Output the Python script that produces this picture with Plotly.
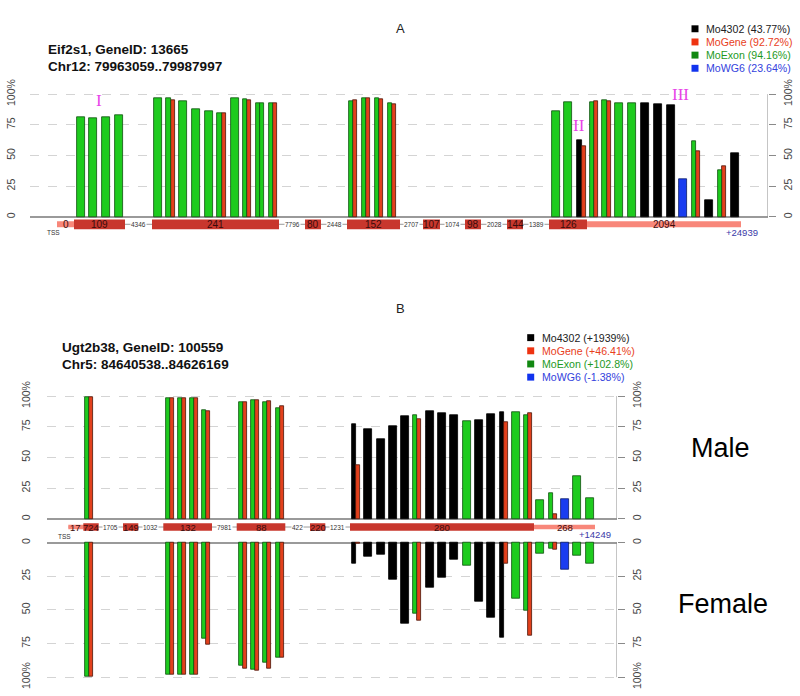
import plotly.graph_objects as go

W, H = 800, 696

# ---------------- data: panel A (Eif2s1) ----------------
A_slot = [81, 93, 106, 119, 157.5, 170.5, 183, 196, 209, 221.5, 234.5, 247, 260, 273,
          353, 366, 379, 392, 555.5, 568, 581.5, 594, 606.5, 619, 632, 645, 658, 671,
          683, 696, 709, 722, 735]
A_s1 = ['E', 'E', 'E', 'E', 'E', 'E', 'E', 'E', 'E', 'E', 'E', 'E', 'E', 'E',
        'E', 'E', 'E', 'E', 'E', 'E', 'M', 'E', 'E', 'E', 'E', 'M', 'M', 'M',
        'W', 'E', 'M', 'E', 'M']
A_v1 = [81.6, 80, 81.6, 82.7, 97, 96.5, 94.3, 87.6, 86.2, 84.1, 97, 96.2, 93, 93,
        94.6, 96.8, 96.8, 93, 85.7, 93.2, 62.7, 93.8, 95.4, 92.4, 93, 92.4, 91.4, 91.1,
        30.5, 61.9, 13.5, 37.8, 51.9]
A_s2 = [None, None, None, None, None, 'G', None, None, None, 'G', None, 'G', 'E', 'G',
        'G', 'G', 'G', 'G', None, None, 'G', 'G', 'G', None, None, None, None, None,
        None, 'G', None, 'G', None]
A_v2 = [None, None, None, None, None, 95.1, None, None, None, 84.6, None, 95.1, 92.2, 93,
        95.4, 96.5, 95.9, 91.4, None, None, 57.3, 94.3, 94.3, None, None, None, None, None,
        None, 53.8, None, 41.1, None]

A_seg_start = [57, 74, 125, 152, 279, 305, 321, 347, 400, 423, 440, 465, 481, 507, 523, 549, 587]
A_seg_end = [74, 125, 152, 279, 305, 321, 347, 400, 423, 440, 465, 481, 507, 523, 549, 587, 741]
A_seg_label = ['0', '109', '4346', '241', '7796', '80', '2448', '152', '2707', '107', '1074',
               '98', '2028', '144', '1389', '126', '2094']
A_seg_type = ['utr', 'exon', 'intron', 'exon', 'intron', 'exon', 'intron', 'exon', 'intron',
              'exon', 'intron', 'exon', 'intron', 'exon', 'intron', 'exon', 'utr']

A_legend = ['Mo4302 (43.77%)', 'MoGene (92.72%)', 'MoExon (94.16%)', 'MoWG6 (23.64%)']
A_title = ['Eif2s1, GeneID: 13665', 'Chr12: 79963059..79987997']
A_end_label = '+24939'

# ---------------- data: panel B (Ugt2b38) ----------------
B_slot = [89.3, 169.7, 181.7, 194, 206.3, 243, 255.3, 267.3, 279.7, 356.3, 368.3, 380.5,
          393, 405.3, 417.3, 430, 442, 454.3, 466.7, 479, 491.3, 503.7, 515.7, 528.3,
          540.3, 552.7, 565.2, 577.3, 589.5]
B_s1 = ['E', 'E', 'E', 'E', 'E', 'E', 'E', 'E', 'E', 'M', 'M', 'M',
        'M', 'M', 'E', 'M', 'M', 'M', 'E', 'M', 'M', 'M', 'E', 'E',
        'E', 'E', 'W', 'E', 'E']
B_v1_male = [99.5, 98.7, 98.4, 98.4, 88.7, 95.4, 96.5, 95.2, 89.8, 77, 72.8, 64.5,
             75.6, 83.9, 84.4, 87.6, 86, 84.4, 79.6, 80.1, 85.5, 86.6, 86.8, 84.7,
             15.1, 20.7, 15.9, 34.4, 16.7]
B_v1_female = [99.3, 98, 97.8, 97.8, 71.6, 91.7, 94.1, 89.5, 85.5, 15.9, 10.3, 9.3,
               27.7, 60.3, 52.9, 33.3, 26, 12.3, 17.2, 44.1, 55.4, 70.8, 41.7, 50.7,
               8.3, 4.7, 20.1, 9.6, 15.4]
B_s2 = ['G', 'G', 'G', 'G', 'G', 'G', 'G', 'G', 'G', 'G', None, None,
        None, None, 'G', None, None, None, None, None, None, 'G', None, 'G',
        None, 'G', None, None, None]
B_v2_male = [99.5, 98.4, 98.1, 98.1, 87.4, 95.4, 96.8, 96, 91.9, 43.5, None, None,
             None, None, 81.2, None, None, None, None, None, None, 78.8, None, 86,
             None, 3.5, None, None, None]
B_v2_female = [99.3, 98, 98, 98, 75.7, 93.6, 95.1, 93.6, 85.5, 1.0, None, None,
               None, None, 58.3, None, None, None, None, None, None, 15.4, None, 69.4,
               None, 5.1, None, None, None]

B_seg_start = [68.3, 83.3, 98.7, 123, 138.3, 163.3, 212, 236.7, 285.3, 310, 325.3, 350, 534]
B_seg_end = [83.3, 98.7, 123, 138.3, 163.3, 212, 236.7, 285.3, 310, 325.3, 350, 534, 595]
B_seg_label = ['17', '724', '1705', '149', '1032', '132', '7981', '88', '422', '220', '1231',
               '280', '268']
B_seg_type = ['utr', 'exon', 'intron', 'exon', 'intron', 'exon', 'intron', 'exon', 'intron',
              'exon', 'intron', 'exon', 'utr']

B_legend = ['Mo4302 (+1939%)', 'MoGene (+46.41%)', 'MoExon (+102.8%)', 'MoWG6 (-1.38%)']
B_title = ['Ugt2b38, GeneID: 100559', 'Chr5: 84640538..84626169']
B_end_label = '+14249'

tick_vals = [0, 25, 50, 75, 100]
tick_text = ['0', '25', '50', '75', '100%']

# ---------------- styles ----------------
SERIES = ['M', 'G', 'E', 'W']
FILL = {'M': '#000000', 'G': '#e2401c', 'E': '#1ecb1e', 'W': '#1a3df0'}
EDGE = {'M': '#000000', 'G': '#4a1408', 'E': '#0f4f0f', 'W': '#0a1a66'}
LEG_SQ = ['#000000', '#ee3311', '#118811', '#1133ee']
LEG_TX = ['#222222', '#e8401c', '#1e9a1e', '#3342dd']
EXON_C = '#c8372d'
UTR_C = '#f8877a'
FONT = 'Liberation Sans, Arial, sans-serif'
SERIF = 'Liberation Serif, DejaVu Serif, serif'
GRID = '#d4d4d4'
AXC = '#8a8a8a'


def px(v):
    return v / W


def py(v):
    return 1 - v / H


fig = go.Figure()


def add_bars(slots, s1, v1, s2, v2, single_w, pair_w, xa, ya):
    for key in SERIES:
        xs, ys, ws = [], [], []
        for c, a, va, b, vb in zip(slots, s1, v1, s2, v2):
            paired = b is not None
            if a == key and va is not None:
                xs.append(c - pair_w / 2 if paired else c)
                ys.append(va)
                ws.append(pair_w if paired else single_w)
            if b == key and vb is not None:
                xs.append(c + pair_w / 2)
                ys.append(vb)
                ws.append(pair_w)
        if xs:
            fig.add_trace(go.Bar(x=xs, y=ys, width=ws, xaxis=xa, yaxis=ya,
                                 marker=dict(color=FILL[key], line=dict(color=EDGE[key], width=0.8)),
                                 hoverinfo='skip', showlegend=False))


add_bars(A_slot, A_s1, A_v1, A_s2, A_v2, 8, 4.3, 'x', 'y')
add_bars(B_slot, B_s1, B_v1_male, B_s2, B_v2_male, 8, 4, 'x2', 'y2')
add_bars(B_slot, B_s1, B_v1_female, B_s2, B_v2_female, 8, 4, 'x2', 'y3')

# dummy traces so the overlaid right-hand axes are drawn
for xa, ya in [('x', 'y4'), ('x2', 'y5'), ('x2', 'y6')]:
    fig.add_trace(go.Scatter(x=[None], y=[None], xaxis=xa, yaxis=ya, showlegend=False, hoverinfo='skip'))

shapes = []
annots = []


def note(x, y, text, size, color, family=FONT, xanchor='center', yanchor='middle', xref='paper',
         yref='paper', bgcolor=None):
    d = dict(x=x, y=y, xref=xref, yref=yref, text=text, showarrow=False, xanchor=xanchor,
             yanchor=yanchor, font=dict(family=family, size=size, color=color), borderpad=0)
    if bgcolor:
        d['bgcolor'] = bgcolor
    annots.append(d)


def gene_track(xr, yr, starts, ends, labels, types, yc, exon_h, utr_h, lab_size):
    shapes.append(dict(type='line', xref=xr, yref=yr, x0=starts[0], x1=ends[-1], y0=yc, y1=yc,
                       line=dict(color='#9a9a9a', width=1)))
    for s, e, lab, t in zip(starts, ends, labels, types):
        mid = (s + e) / 2
        if t == 'intron':
            note(mid, yc, lab, 6.5, '#333333', xref=xr, yref=yr, bgcolor='white')
        else:
            h = exon_h if t == 'exon' else utr_h
            shapes.append(dict(type='rect', xref=xr, yref=yr, x0=s, x1=e, y0=yc - h / 2, y1=yc + h / 2,
                               fillcolor=EXON_C if t == 'exon' else UTR_C, line=dict(width=0)))
            note(mid, yc, lab, lab_size, '#3a0c0c', xref=xr, yref=yr)


gene_track('x', 'y', A_seg_start, A_seg_end, A_seg_label, A_seg_type, -6.05, 8.0, 4.8, 10)
gene_track('x2', 'y2', B_seg_start, B_seg_end, B_seg_label, B_seg_type, -6.7, 6.0, 3.8, 9.5)

# right axis lines (0..100)
for xr, yr, xv in [('x', 'y', 768), ('x2', 'y2', 617), ('x2', 'y3', 617)]:
    shapes.append(dict(type='line', xref=xr, yref=yr, x0=xv, x1=xv, y0=0, y1=100,
                       line=dict(color=AXC, width=1)))

# TSS and end labels
note(px(53), py(228), 'TSS', 6.5, '#333333')
note(px(64), py(535), 'TSS', 6.5, '#333333')
note(px(742), py(227.5), A_end_label, 9.5, '#3a3aa8')
note(px(595), py(533), B_end_label, 9.5, '#3a3aa8')

# panel titles
note(0.5, py(22), 'A', 13, '#222222')
note(0.5, py(305), 'B', 13, '#222222')

# gene titles
for (x0, y0), lines in [((47, 43), A_title), ((61, 344), B_title)]:
    for i, t in enumerate(lines):
        note(px(x0), py(y0 + 17 * i), '<b>%s</b>' % t, 13.5, '#111111', xanchor='left')

# legends
for (sx, y0), labels in [((695, 22), A_legend), ((530.7, 334), B_legend)]:
    for i, t in enumerate(labels):
        yy = y0 + 13.3 * i
        shapes.append(dict(type='rect', xref='paper', yref='paper', x0=px(sx - 3.5), x1=px(sx + 3.5),
                           y0=py(yy + 3.5), y1=py(yy - 3.5), fillcolor=LEG_SQ[i], line=dict(width=0)))
        note(px(sx + 10), py(yy), t, 10.6, LEG_TX[i], xanchor='left')

# roman numerals
for t, x0, y0 in [('I', 99, 94), ('II', 579, 120), ('III', 680, 88)]:
    note(px(x0), py(y0), t, 17, '#e842e8', family=SERIF)

# Male / Female
note(px(720), py(445), 'Male', 27, '#000000')
note(px(723), py(603), 'Female', 27, '#000000')

tickfont = dict(family=FONT, size=10.5, color='#444444')


def left_axis(dom_top, dom_bot, zero_px, ppu, reverse=False, standoff=12):
    top_v = (zero_px - dom_top) / ppu
    bot_v = (zero_px - dom_bot) / ppu
    rng = [-bot_v, -top_v] if reverse else [bot_v, top_v]
    return dict(domain=[py(dom_bot), py(dom_top)], range=rng, tickvals=tick_vals, ticktext=tick_text,
                tickangle=-90, showline=False, ticks='', showgrid=True, gridcolor=GRID,
                griddash='dash', gridwidth=1, zeroline=True, zerolinecolor='#9a9a9a',
                zerolinewidth=1.6, tickfont=tickfont, ticklabelstandoff=standoff, fixedrange=True)


def right_axis(base, anchor, standoff=3):
    return dict(overlaying=base, side='right', anchor=anchor, tickvals=tick_vals, ticktext=tick_text,
                tickangle=-90, showline=False, ticks='outside', ticklen=7, tickcolor=AXC, tickwidth=1,
                showgrid=False, zeroline=False, tickfont=tickfont, ticklabelstandoff=standoff)


yA = left_axis(80, 240, 212, 1.24)
yB = left_axis(383, 540, 517, 1.24, standoff=14)
yC = left_axis(535, 692, 541, 1.36, reverse=True, standoff=14)

y4 = right_axis('y', 'x'); y4['range'] = yA['range']
y5 = right_axis('y2', 'x2'); y5['range'] = yB['range']
y6 = right_axis('y3', 'x2'); y6['range'] = yC['range']

xA = dict(domain=[px(30), px(768)], range=[30, 768], visible=False, anchor='y')
xB = dict(domain=[px(47), px(617)], range=[47, 617], visible=False, anchor='y2')

fig.update_layout(
    width=W, height=H, margin=dict(l=0, r=0, t=0, b=0),
    paper_bgcolor='white', plot_bgcolor='white', barmode='overlay', bargap=0,
    showlegend=False,
    xaxis=xA, xaxis2=xB,
    yaxis=dict(yA, anchor='x'), yaxis2=dict(yB, anchor='x2'), yaxis3=dict(yC, anchor='x2'),
    yaxis4=y4, yaxis5=y5, yaxis6=y6,
    shapes=shapes, annotations=annots,
)

fig.write_html('out.html', config={'displayModeBar': False},
               post_script="document.body.style.margin='0';document.body.style.overflow='hidden';")
